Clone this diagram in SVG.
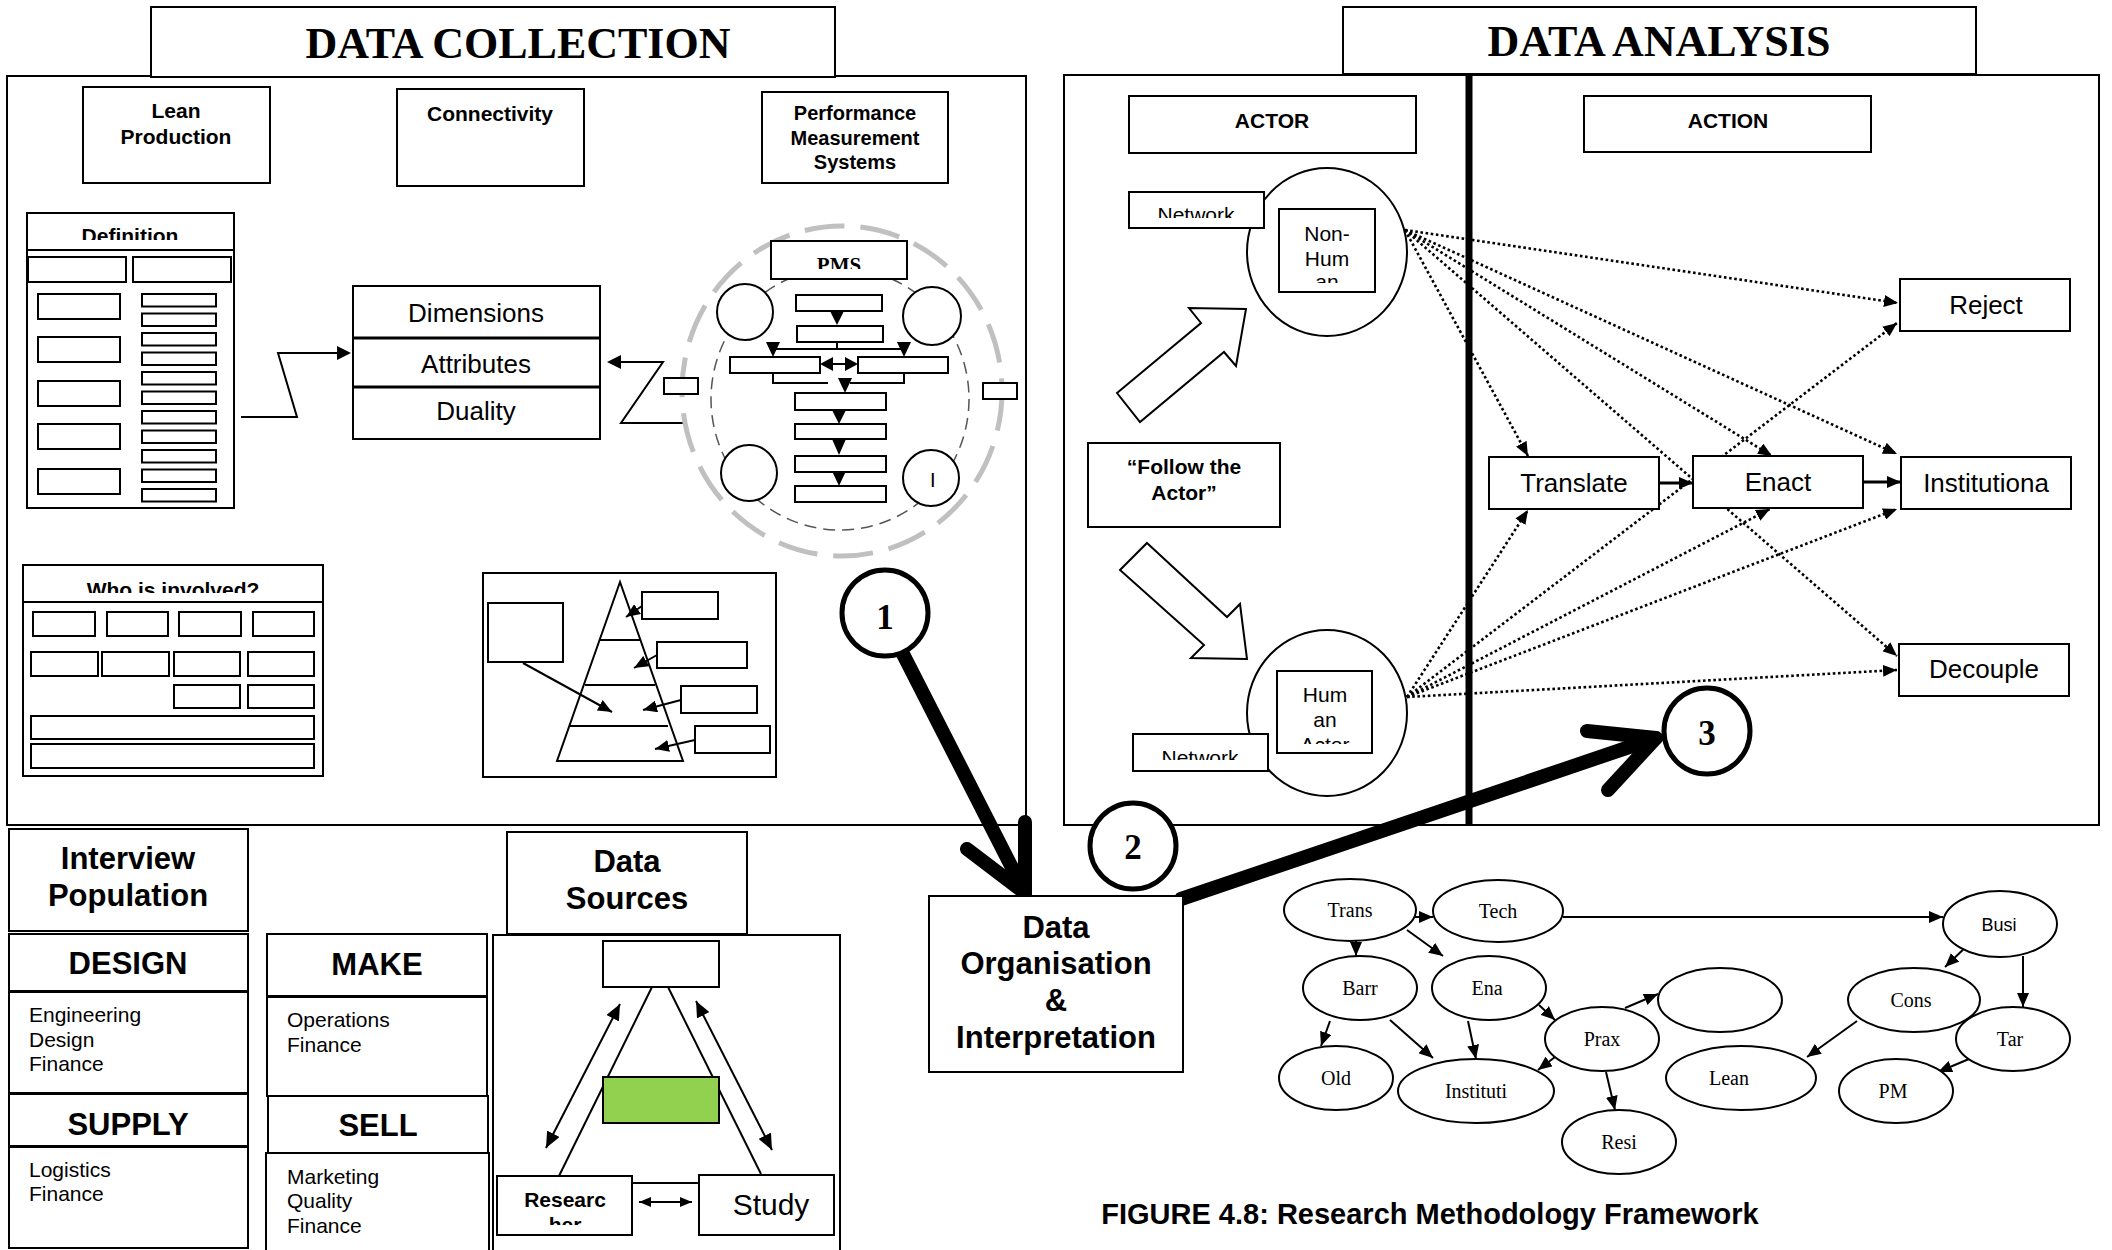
<svg xmlns="http://www.w3.org/2000/svg" width="2112" height="1250" viewBox="0 0 2112 1250">
<style>
.b{fill:#fff;stroke:#000;stroke-width:2}
.nf{fill:none;stroke:#000;stroke-width:2}
.ln{fill:none;stroke:#000;stroke-width:2}
.dot{fill:none;stroke:#000;stroke-width:2.6;stroke-dasharray:2.6 2.6}
.thick{fill:none;stroke:#000;stroke-width:14;stroke-linecap:round;stroke-linejoin:round}
.s{font-family:"Liberation Sans",Arial,sans-serif;fill:#000}
.sb{font-family:"Liberation Sans",Arial,sans-serif;font-weight:bold;fill:#000}
.sr{font-family:"Liberation Serif","Times New Roman",serif;fill:#000}
.srb{font-family:"Liberation Serif","Times New Roman",serif;font-weight:bold;fill:#000}
.c{text-anchor:middle}
.tri{fill:#000;stroke:none}
.num{fill:#fff;stroke:#000;stroke-width:5}
</style>
<defs>
<marker id="arr" markerUnits="userSpaceOnUse" markerWidth="14" markerHeight="12" refX="14" refY="6" orient="auto"><path d="M0,0 L14,6 L0,12 z" fill="#000"/></marker>
<marker id="arrD" markerUnits="userSpaceOnUse" markerWidth="16" markerHeight="14" refX="16" refY="7" orient="auto-start-reverse"><path d="M0,0 L16,7 L0,14 z" fill="#000"/></marker>
<marker id="arrS" markerUnits="userSpaceOnUse" markerWidth="12" markerHeight="10" refX="12" refY="5" orient="auto-start-reverse"><path d="M0,0 L12,5 L0,10 z" fill="#000"/></marker>
<clipPath id="cDef"><rect x="27" y="213" width="207" height="27"/></clipPath>
<clipPath id="cWho"><rect x="23" y="565" width="300" height="28"/></clipPath>
<clipPath id="cPMS"><rect x="771" y="241" width="136" height="28"/></clipPath>
<clipPath id="cNet1"><rect x="1129" y="192" width="135" height="26"/></clipPath>
<clipPath id="cNon"><rect x="1279" y="209" width="96" height="74"/></clipPath>
<clipPath id="cHum"><rect x="1277" y="671" width="95" height="73"/></clipPath>
<clipPath id="cNet2"><rect x="1133" y="734" width="135" height="26"/></clipPath>
<clipPath id="cRes"><rect x="497" y="1176" width="135" height="49"/></clipPath>
</defs>
<rect x="0" y="0" width="2112" height="1250" fill="#fff"/>

<g id="containers">
<rect class="nf" x="7" y="76" width="1019" height="749"/>
<rect class="b" x="151" y="7" width="684" height="70"/>
<text class="srb c" x="518" y="58" font-size="44">DATA COLLECTION</text>
<rect class="nf" x="1064" y="75" width="1035" height="750"/>
<rect class="b" x="1343" y="7" width="633" height="67"/>
<text class="srb c" x="1659" y="56" font-size="44">DATA ANALYSIS</text>
<line x1="1469" y1="76" x2="1469" y2="825" stroke="#000" stroke-width="7"/>
</g>

<g id="connectors">
<polyline class="ln" points="241,417 297,417 278,353 338,353"/>
<polygon class="tri" points="337,346 351,353 337,360"/>
<polyline class="ln" points="683,423 621,423 663,362 621,362"/>
<polygon class="tri" points="621,355 607,362 621,369"/>
<line class="ln" x1="642" y1="606" x2="626" y2="617" marker-end="url(#arr)"/>
<line class="ln" x1="657" y1="655" x2="634" y2="668" marker-end="url(#arr)"/>
<line class="ln" x1="681" y1="700" x2="643" y2="710" marker-end="url(#arr)"/>
<line class="ln" x1="695" y1="740" x2="655" y2="749" marker-end="url(#arr)"/>
<line class="ln" x1="523" y1="663" x2="612" y2="712" marker-end="url(#arr)"/>
<line class="dot" x1="1405" y1="230" x2="1898" y2="303" marker-end="url(#arr)"/>
<line class="dot" x1="1405" y1="230" x2="1897" y2="454" marker-end="url(#arr)"/>
<line class="dot" x1="1405" y1="230" x2="1772" y2="456" marker-end="url(#arr)"/>
<line class="dot" x1="1405" y1="230" x2="1528" y2="456" marker-end="url(#arr)"/>
<line class="dot" x1="1405" y1="230" x2="1897" y2="656" marker-end="url(#arr)"/>
<line class="dot" x1="1407" y1="697" x2="1897" y2="670" marker-end="url(#arr)"/>
<line class="dot" x1="1407" y1="697" x2="1897" y2="509" marker-end="url(#arr)"/>
<line class="dot" x1="1407" y1="697" x2="1770" y2="509" marker-end="url(#arr)"/>
<line class="dot" x1="1407" y1="697" x2="1897" y2="323" marker-end="url(#arr)"/>
<line class="dot" x1="1407" y1="697" x2="1528" y2="510" marker-end="url(#arr)"/>
<line x1="1659" y1="483" x2="1693" y2="483" stroke="#000" stroke-width="3" marker-end="url(#arr)"/>
<line x1="1863" y1="482" x2="1901" y2="482" stroke="#000" stroke-width="3" marker-end="url(#arr)"/>
<line class="ln" x1="652" y1="987" x2="559" y2="1176"/>
<line class="ln" x1="668" y1="987" x2="761" y2="1174"/>
<line class="ln" x1="620" y1="1004" x2="546" y2="1148" marker-start="url(#arrD)" marker-end="url(#arrD)"/>
<line class="ln" x1="696" y1="1001" x2="772" y2="1150" marker-start="url(#arrD)" marker-end="url(#arrD)"/>
<line class="ln" x1="632" y1="1183" x2="699" y2="1183"/>
<line class="ln" x1="639" y1="1202" x2="692" y2="1202" stroke-width="2.5" marker-start="url(#arrS)" marker-end="url(#arrS)"/>
<line class="ln" x1="1414" y1="917" x2="1433" y2="917" marker-end="url(#arr)"/>
<line class="ln" x1="1356" y1="941" x2="1356" y2="956" marker-end="url(#arr)"/>
<line class="ln" x1="1407" y1="930" x2="1443" y2="956" marker-end="url(#arr)"/>
<line class="ln" x1="1563" y1="917" x2="1943" y2="917" marker-end="url(#arr)"/>
<line class="ln" x1="1330" y1="1021" x2="1321" y2="1046" marker-end="url(#arr)"/>
<line class="ln" x1="1390" y1="1020" x2="1433" y2="1058" marker-end="url(#arr)"/>
<line class="ln" x1="1468" y1="1021" x2="1476" y2="1059" marker-end="url(#arr)"/>
<line class="ln" x1="1539" y1="1005" x2="1555" y2="1020" marker-end="url(#arr)"/>
<line class="ln" x1="1625" y1="1008" x2="1658" y2="994" marker-end="url(#arr)"/>
<line class="ln" x1="1555" y1="1057" x2="1538" y2="1070" marker-end="url(#arr)"/>
<line class="ln" x1="1606" y1="1072" x2="1615" y2="1110" marker-end="url(#arr)"/>
<line class="ln" x1="1970" y1="943" x2="1945" y2="967" marker-end="url(#arr)"/>
<line class="ln" x1="2023" y1="956" x2="2023" y2="1007" marker-end="url(#arr)"/>
<line class="ln" x1="1857" y1="1021" x2="1807" y2="1057" marker-end="url(#arr)"/>
<line class="ln" x1="1969" y1="1059" x2="1938" y2="1072" marker-end="url(#arr)"/>
<line class="thick" x1="903" y1="654" x2="1025" y2="893"/>
<polyline class="thick" points="967,849 1025,893 1025,822"/>
<line class="thick" x1="1181" y1="899" x2="1656" y2="738"/>
<polyline class="thick" points="1587,731 1656,738 1608,790"/>
</g>

<g id="lean-production"><rect class="b" x="83" y="87" width="187" height="96"/>
<text class="sb c" x="176" y="118" font-size="21">Lean</text><text class="sb c" x="176" y="144" font-size="21">Production</text></g>
<g id="connectivity"><rect class="b" x="397" y="89" width="187" height="97"/>
<text class="sb c" x="490" y="121" font-size="21">Connectivity</text></g>
<g id="pms-title"><rect class="b" x="762" y="92" width="186" height="91"/>
<text class="sb c" x="855" y="120" font-size="20">Performance</text><text class="sb c" x="855" y="145" font-size="20">Measurement</text><text class="sb c" x="855" y="169" font-size="20">Systems</text></g>

<g id="definition">
<rect class="b" x="27" y="213" width="207" height="295"/>
<line class="ln" x1="27" y1="250" x2="234" y2="250"/>
<text class="sb c" x="130" y="243" font-size="21" clip-path="url(#cDef)">Definition</text>
<rect class="b" x="28" y="257" width="98" height="25"/><rect class="b" x="133" y="257" width="98" height="25"/>
<rect class="b" x="38" y="294" width="82" height="25"/><rect class="b" x="38" y="337" width="82" height="25"/><rect class="b" x="38" y="381" width="82" height="25"/><rect class="b" x="38" y="424" width="82" height="25"/><rect class="b" x="38" y="469" width="82" height="25"/>
<rect class="b" x="142" y="294" width="74" height="12.5"/><rect class="b" x="142" y="313.5" width="74" height="12.5"/><rect class="b" x="142" y="333" width="74" height="12.5"/><rect class="b" x="142" y="352.5" width="74" height="12.5"/><rect class="b" x="142" y="372" width="74" height="12.5"/><rect class="b" x="142" y="391.5" width="74" height="12.5"/><rect class="b" x="142" y="411" width="74" height="12.5"/><rect class="b" x="142" y="430.5" width="74" height="12.5"/><rect class="b" x="142" y="450" width="74" height="12.5"/><rect class="b" x="142" y="469.5" width="74" height="12.5"/><rect class="b" x="142" y="489" width="74" height="12.5"/>
</g>

<g id="dimensions">
<rect class="b" x="353" y="286" width="247" height="153"/>
<line x1="353" y1="338" x2="600" y2="338" stroke="#000" stroke-width="3"/>
<line x1="353" y1="387" x2="600" y2="387" stroke="#000" stroke-width="3"/>
<text class="s c" x="476" y="322" font-size="26">Dimensions</text>
<text class="s c" x="476" y="373" font-size="26">Attributes</text>
<text class="s c" x="476" y="420" font-size="26">Duality</text>
</g>

<g id="pms-diagram">
<ellipse cx="842" cy="391" rx="160" ry="165" fill="none" stroke="#c0c0c0" stroke-width="5" stroke-dasharray="40 16"/>
<ellipse cx="840" cy="399" rx="129" ry="131" fill="none" stroke="#555" stroke-width="1.5" stroke-dasharray="12 7"/>
<rect class="b" x="664" y="378" width="34" height="16"/>
<rect class="b" x="983" y="383" width="34" height="16"/>
<rect class="b" x="771" y="241" width="136" height="38"/>
<text class="srb c" x="839" y="272" font-size="21" clip-path="url(#cPMS)">PMS</text>
<circle class="b" cx="745" cy="312" r="28"/><circle class="b" cx="932" cy="316" r="29"/>
<circle class="b" cx="749" cy="473" r="28"/><circle class="b" cx="931" cy="478" r="28"/>
<text class="s" x="930" y="487" font-size="20">I</text>
<rect class="b" x="796" y="295" width="86" height="16"/>
<polygon class="tri" points="830,311 844,311 837,325"/>
<rect class="b" x="797" y="326" width="86" height="16"/>
<polyline class="ln" points="837,342 837,349"/><line class="ln" x1="773" y1="349" x2="904" y2="349"/>
<polygon class="tri" points="766,342 780,342 773,357"/><polygon class="tri" points="897,342 911,342 904,357"/>
<rect class="b" x="730" y="357" width="90" height="16"/>
<rect class="b" x="858" y="357" width="90" height="16"/>
<line class="ln" x1="828" y1="364" x2="850" y2="364"/>
<polygon class="tri" points="820,364 833,357 833,371"/><polygon class="tri" points="858,364 845,357 845,371"/>
<polyline class="ln" points="773,373 773,383 828,383"/><polyline class="ln" points="904,373 904,383 850,383"/>
<polygon class="tri" points="838,378 852,378 845,393"/>
<rect class="b" x="795" y="393" width="91" height="17"/>
<polygon class="tri" points="832,410 846,410 839,424"/>
<rect class="b" x="795" y="424" width="91" height="15"/>
<polygon class="tri" points="832,439 846,439 839,455"/>
<rect class="b" x="795" y="456" width="91" height="16"/>
<polygon class="tri" points="832,471 846,471 839,486"/>
<rect class="b" x="795" y="486" width="91" height="16"/>
</g>

<g id="who-is-involved">
<rect class="b" x="23" y="565" width="300" height="211"/>
<line class="ln" x1="23" y1="602" x2="323" y2="602"/>
<text class="sb c" x="173" y="597" font-size="21" clip-path="url(#cWho)">Who is involved?</text>
<rect class="b" x="33" y="612" width="62" height="24"/><rect class="b" x="107" y="612" width="61" height="24"/><rect class="b" x="179" y="612" width="62" height="24"/><rect class="b" x="253" y="612" width="61" height="24"/>
<rect class="b" x="31" y="652" width="67" height="24"/><rect class="b" x="102" y="652" width="67" height="24"/><rect class="b" x="174" y="652" width="66" height="24"/><rect class="b" x="248" y="652" width="66" height="24"/>
<rect class="b" x="174" y="685" width="66" height="23"/><rect class="b" x="248" y="685" width="66" height="23"/>
<rect class="b" x="31" y="716" width="283" height="23"/>
<rect class="b" x="31" y="744" width="283" height="24"/>
</g>

<g id="pyramid">
<rect class="nf" x="483" y="573" width="293" height="204"/>
<rect class="b" x="488" y="603" width="75" height="59"/>
<polygon class="nf" points="620,582 557,761 683,761"/>
<line class="ln" x1="600" y1="640" x2="640" y2="640"/>
<line class="ln" x1="585" y1="685" x2="655" y2="685"/>
<line class="ln" x1="570" y1="726" x2="668" y2="726"/>
<rect class="b" x="642" y="592" width="76" height="27"/>
<rect class="b" x="657" y="642" width="90" height="26"/>
<rect class="b" x="681" y="686" width="76" height="27"/>
<rect class="b" x="695" y="726" width="75" height="27"/>
</g>

<g id="step-1"><circle class="num" cx="885" cy="613" r="43"/><text class="srb c" x="885" y="629" font-size="35">1</text></g>
<g id="step-2"><circle class="num" cx="1133" cy="846" r="43"/><text class="srb c" x="1133" y="859" font-size="35">2</text></g>
<g id="step-3"><circle class="num" cx="1707" cy="731" r="43"/><text class="srb c" x="1707" y="745" font-size="35">3</text></g>

<g id="data-organisation"><rect class="b" x="929" y="896" width="254" height="176"/>
<text class="sb c" x="1056" y="938" font-size="31">Data</text><text class="sb c" x="1056" y="974" font-size="31">Organisation</text><text class="sb c" x="1056" y="1011" font-size="31">&amp;</text><text class="sb c" x="1056" y="1048" font-size="31">Interpretation</text></g>

<g id="actor"><rect class="b" x="1129" y="96" width="287" height="57"/><text class="sb c" x="1272" y="128" font-size="21">ACTOR</text></g>
<g id="action"><rect class="b" x="1584" y="96" width="287" height="56"/><text class="sb c" x="1728" y="128" font-size="21">ACTION</text></g>

<g id="non-human">
<ellipse class="b" cx="1327" cy="252" rx="80" ry="84"/>
<rect class="b" x="1129" y="192" width="135" height="36"/>
<text class="s c" x="1196" y="222" font-size="21" clip-path="url(#cNet1)">Network</text>
<rect class="b" x="1279" y="209" width="96" height="83"/>
<g clip-path="url(#cNon)"><text class="s c" x="1327" y="241" font-size="21">Non-</text><text class="s c" x="1327" y="266" font-size="21">Hum</text><text class="s c" x="1327" y="289" font-size="21">an</text></g>
</g>
<g id="arrow-up"><polygon class="b" points="1117,393 1201,323 1189,308 1246,309 1236,366 1224,352 1140,422"/></g>
<g id="follow-actor"><rect class="b" x="1088" y="443" width="192" height="84"/>
<text class="sb c" x="1184" y="474" font-size="21">“Follow the</text><text class="sb c" x="1184" y="500" font-size="21">Actor”</text></g>
<g id="arrow-down"><polygon class="b" points="1147,543 1227,617 1240,604 1247,659 1191,658 1204,645 1120,570"/></g>
<g id="human">
<ellipse class="b" cx="1327" cy="713" rx="80" ry="83"/>
<rect class="b" x="1277" y="671" width="95" height="82"/>
<g clip-path="url(#cHum)"><text class="s c" x="1325" y="702" font-size="21">Hum</text><text class="s c" x="1325" y="727" font-size="21">an</text><text class="s c" x="1325" y="752" font-size="21">Actor</text></g>
<rect class="b" x="1133" y="734" width="135" height="37"/>
<text class="s c" x="1200" y="765" font-size="21" clip-path="url(#cNet2)">Network</text>
</g>

<g id="reject"><rect class="b" x="1900" y="279" width="170" height="52"/><text class="s c" x="1986" y="314" font-size="26">Reject</text></g>
<g id="translate"><rect class="b" x="1489" y="457" width="170" height="52"/><text class="s c" x="1574" y="492" font-size="26">Translate</text></g>
<g id="enact"><rect class="b" x="1693" y="456" width="170" height="52"/><text class="s c" x="1778" y="491" font-size="26">Enact</text></g>
<g id="institutiona"><rect class="b" x="1901" y="457" width="170" height="52"/><text class="s c" x="1986" y="492" font-size="26">Institutiona</text></g>
<g id="decouple"><rect class="b" x="1899" y="644" width="170" height="52"/><text class="s c" x="1984" y="678" font-size="26">Decouple</text></g>

<g id="interview-population"><rect class="b" x="9" y="829" width="239" height="102"/>
<text class="sb c" x="128" y="869" font-size="31">Interview</text><text class="sb c" x="128" y="906" font-size="31">Population</text></g>
<g id="design"><rect class="b" x="9" y="934" width="239" height="57"/><text class="sb c" x="128" y="974" font-size="31">DESIGN</text>
<rect class="b" x="9" y="992" width="239" height="101"/>
<text class="s" x="29" y="1022" font-size="21">Engineering</text><text class="s" x="29" y="1047" font-size="21">Design</text><text class="s" x="29" y="1071" font-size="21">Finance</text></g>
<g id="supply"><rect class="b" x="9" y="1094" width="239" height="52"/><text class="sb c" x="128" y="1135" font-size="31">SUPPLY</text>
<rect class="b" x="9" y="1147" width="239" height="101"/>
<text class="s" x="29" y="1177" font-size="21">Logistics</text><text class="s" x="29" y="1201" font-size="21">Finance</text></g>
<g id="make"><rect class="b" x="267" y="934" width="220" height="62"/><text class="sb c" x="377" y="975" font-size="31">MAKE</text>
<rect class="b" x="267" y="997" width="220" height="99"/>
<text class="s" x="287" y="1027" font-size="21">Operations</text><text class="s" x="287" y="1052" font-size="21">Finance</text></g>
<g id="sell"><rect class="b" x="268" y="1096" width="220" height="57"/><text class="sb c" x="378" y="1136" font-size="31">SELL</text>
<rect class="b" x="266" y="1153" width="223" height="100"/>
<text class="s" x="287" y="1184" font-size="21">Marketing</text><text class="s" x="287" y="1208" font-size="21">Quality</text><text class="s" x="287" y="1233" font-size="21">Finance</text></g>

<g id="data-sources"><rect class="b" x="507" y="832" width="240" height="102"/>
<text class="sb c" x="627" y="872" font-size="31">Data</text><text class="sb c" x="627" y="909" font-size="31">Sources</text>
<rect class="nf" x="493" y="935" width="347" height="320"/></g>
<g id="ds-top"><rect class="b" x="603" y="941" width="116" height="46"/></g>
<g id="ds-green"><rect x="603" y="1077" width="116" height="46" fill="#92d050" stroke="#000" stroke-width="2"/></g>
<g id="researcher"><rect class="b" x="497" y="1176" width="135" height="59"/>
<g clip-path="url(#cRes)"><text class="sb c" x="565" y="1207" font-size="21">Researc</text><text class="sb c" x="565" y="1232" font-size="21">her</text></g></g>
<g id="study"><rect class="b" x="699" y="1175" width="135" height="60"/><text class="s c" x="771" y="1215" font-size="30">Study</text></g>

<g id="concept-map">
<g id="n-trans"><ellipse class="b" cx="1350" cy="910" rx="66" ry="31"/><text class="sr c" x="1350" y="917" font-size="20">Trans</text></g>
<g id="n-tech"><ellipse class="b" cx="1498" cy="911" rx="65" ry="31"/><text class="sr c" x="1498" y="918" font-size="20">Tech</text></g>
<g id="n-busi"><ellipse class="b" cx="2000" cy="924" rx="57" ry="33"/><text class="s c" x="1999" y="931" font-size="18">Busi</text></g>
<g id="n-barr"><ellipse class="b" cx="1360" cy="988" rx="57" ry="32"/><text class="sr c" x="1360" y="995" font-size="20">Barr</text></g>
<g id="n-ena"><ellipse class="b" cx="1489" cy="988" rx="57" ry="32"/><text class="sr c" x="1487" y="995" font-size="20">Ena</text></g>
<g id="n-empty"><ellipse class="b" cx="1720" cy="1000" rx="62" ry="32"/></g>
<g id="n-cons"><ellipse class="b" cx="1914" cy="1000" rx="66" ry="32"/><text class="sr c" x="1911" y="1007" font-size="20">Cons</text></g>
<g id="n-prax"><ellipse class="b" cx="1602" cy="1039" rx="57" ry="32"/><text class="sr c" x="1602" y="1046" font-size="20">Prax</text></g>
<g id="n-tar"><ellipse class="b" cx="2013" cy="1039" rx="57" ry="32"/><text class="sr c" x="2010" y="1046" font-size="20">Tar</text></g>
<g id="n-old"><ellipse class="b" cx="1336" cy="1078" rx="57" ry="32"/><text class="sr c" x="1336" y="1085" font-size="20">Old</text></g>
<g id="n-instituti"><ellipse class="b" cx="1476" cy="1091" rx="78" ry="32"/><text class="sr c" x="1476" y="1098" font-size="20">Instituti</text></g>
<g id="n-lean"><ellipse class="b" cx="1741" cy="1078" rx="75" ry="32"/><text class="sr c" x="1729" y="1085" font-size="20">Lean</text></g>
<g id="n-pm"><ellipse class="b" cx="1896" cy="1091" rx="57" ry="32"/><text class="sr c" x="1893" y="1098" font-size="20">PM</text></g>
<g id="n-resi"><ellipse class="b" cx="1619" cy="1142" rx="57" ry="32"/><text class="sr c" x="1619" y="1149" font-size="20">Resi</text></g>
</g>

<text class="sb c" x="1430" y="1224" font-size="29">FIGURE 4.8: Research Methodology Framework</text>
</svg>
